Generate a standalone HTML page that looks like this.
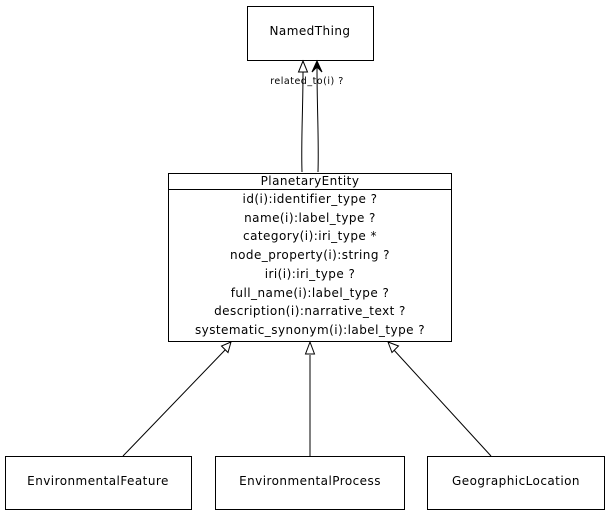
<!DOCTYPE html>
<html><head><meta charset="utf-8"><style>
html,body{margin:0;padding:0;background:#fff;}
svg{display:block;}
text{font-family:"DejaVu Sans","Liberation Sans",sans-serif;font-size:12px;letter-spacing:0.45px;fill:#000;}
</style></head><body>
<svg width="608" height="515" viewBox="0 0 608 515" xmlns="http://www.w3.org/2000/svg">
<rect width="608" height="515" fill="#fff"/>
<g fill="#fff" stroke="#000" stroke-width="1">
<rect x="247.5" y="6.5" width="126" height="54"/>
<rect x="168.5" y="173.5" width="283" height="168"/>
<line x1="168.5" y1="189.5" x2="451.5" y2="189.5"/>
<rect x="5.5" y="456.5" width="186" height="53"/>
<rect x="215.5" y="456.5" width="189" height="53"/>
<rect x="427.5" y="456.5" width="177" height="53"/>
</g>
<text x="310" y="35" text-anchor="middle">NamedThing</text>
<text x="310" y="185" text-anchor="middle">PlanetaryEntity</text>
<g text-anchor="middle">
<text x="310" y="203">id(i):identifier_type ?</text>
<text x="310" y="222">name(i):label_type ?</text>
<text x="310" y="240">category(i):iri_type *</text>
<text x="310" y="259">node_property(i):string ?</text>
<text x="310" y="278">iri(i):iri_type ?</text>
<text x="310" y="297">full_name(i):label_type ?</text>
<text x="310" y="315">description(i):narrative_text ?</text>
<text x="310" y="334">systematic_synonym(i):label_type ?</text>
</g>
<text x="98" y="485" text-anchor="middle">EnvironmentalFeature</text>
<text x="310" y="485" text-anchor="middle">EnvironmentalProcess</text>
<text x="516" y="485" text-anchor="middle">GeographicLocation</text>
<text x="307" y="84" text-anchor="middle" style="font-size:9.5px;letter-spacing:0.5px">related_to(i) ?</text>
<g fill="none" stroke="#000" stroke-width="1">
<path d="M302,172 C301,140 303,110 303,72"/>
<path d="M318,172 C319,140 317,110 317,66"/>
<line x1="123" y1="456" x2="226" y2="349"/>
<line x1="310" y1="456" x2="310" y2="355"/>
<line x1="491" y1="456" x2="393" y2="349"/>
</g>
<g fill="#fff" stroke="#000" stroke-width="1">
<polygon points="303,61 298.5,72 307.5,72"/>
<polygon points="231,342 221.5,346 228,352.5"/>
<polygon points="310,342 305.5,354 314.5,354"/>
<polygon points="388,342 392,352.5 398.5,346"/>
</g>
<path d="M312,72 L317,61 L322,72 L317,67 Z" fill="#000" stroke="#000" stroke-width="1"/>
</svg>
</body></html>
